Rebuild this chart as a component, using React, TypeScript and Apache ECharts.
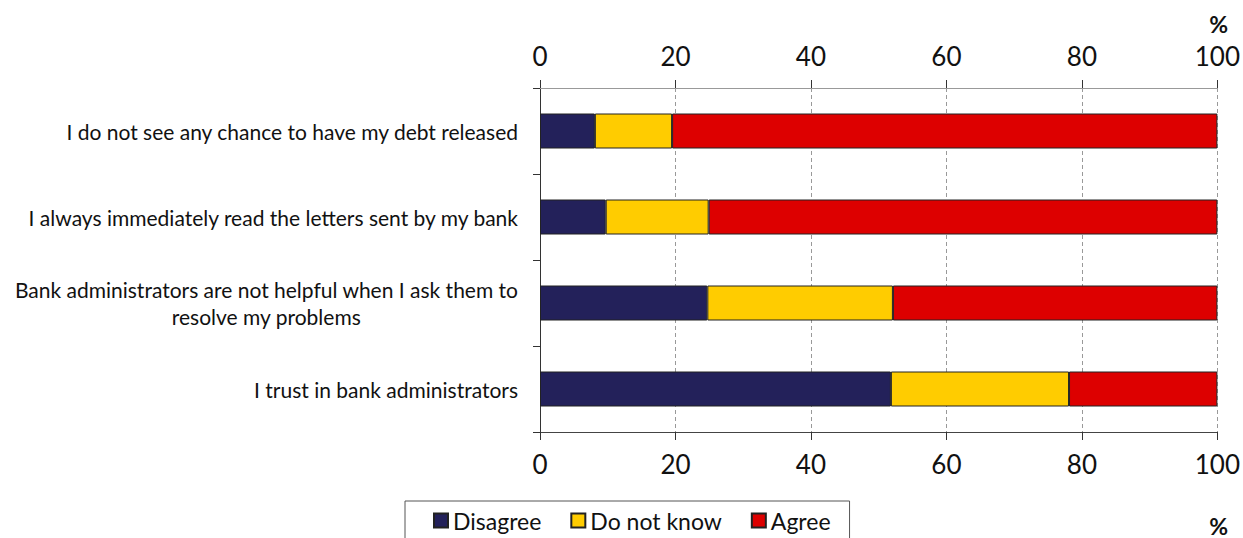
import React, { useEffect, useRef } from "react";
import * as echarts from "echarts";

const categories = [
  "I do not see any chance to have my debt released",
  "I always immediately read the letters sent by my bank",
  "Bank administrators are not helpful when I ask them to\nresolve my problems",
  "I trust in bank administrators",
];
const disagree = [8.1, 9.7, 24.7, 51.8];
const doNotKnow = [11.4, 15.2, 27.4, 26.3];
const agree = [80.5, 75.1, 47.9, 21.9];
const seriesNames = ["Disagree", "Do not know", "Agree"];
const colors = ["#23215A", "#FFCC00", "#DD0000"];
const FONT = "Lato";

export default function App() {
  const ref = useRef<HTMLDivElement>(null);
  useEffect(() => {
    document.body.style.margin = "0";
    const chart = echarts.init(ref.current!, null, { renderer: "svg" });
    const valueAxis = (pos: "top" | "bottom", lineColor: string, showSplit: boolean) => ({
      type: "value",
      position: pos,
      min: 0,
      max: 100,
      interval: 20,
      axisLine: { show: true, lineStyle: { color: lineColor, width: 1 } },
      axisTick: { show: true, length: 8, inside: false, lineStyle: { color: "#333" } },
      axisLabel: { fontFamily: FONT, fontSize: 26, color: "#111", margin: 19 },
      splitLine: showSplit
        ? { show: true, lineStyle: { color: "#999", type: [4, 3], width: 1 } }
        : { show: false },
    });
    const data = [disagree, doNotKnow, agree];
    chart.setOption({
      animation: false,
      textStyle: { fontFamily: FONT },
      grid: { left: 540, right: 24, top: 88, bottom: 106, containLabel: false },
      xAxis: [valueAxis("bottom", "#444", true), valueAxis("top", "#999", false)],
      yAxis: [
        {
          type: "category",
          data: categories,
          inverse: true,
          axisLine: { show: true, lineStyle: { color: "#333" } },
          axisTick: { show: true, length: 7, lineStyle: { color: "#333" } },
          axisLabel: {
            margin: 22,
            fontFamily: FONT,
            fontSize: 21,
            color: "#111",
            lineHeight: 27,
            formatter: (v: string) => {
              const parts = v.split("\n");
              if (parts.length === 1) return `{a|${v}}`;
              return `{a|${parts[0]}}\n{c|${parts[1]}}`;
            },
            rich: {
              a: { fontFamily: FONT, fontSize: 21, color: "#111", align: "right", lineHeight: 27 },
              c: { fontFamily: FONT, fontSize: 21, color: "#111", align: "center", lineHeight: 27 },
            },
          },
        },
        {
          type: "category",
          data: categories,
          inverse: true,
          position: "right",
          axisLine: { show: true, lineStyle: { color: "#333" } },
          axisTick: { show: false },
          axisLabel: { show: false },
        },
      ],
      legend: {
        top: 501,
        left: 405,
        padding: [8, 19, 20, 28],
        borderColor: "#555",
        borderWidth: 1,
        itemWidth: 14,
        itemHeight: 14,
        itemGap: 29,
        icon: "rect",
        textStyle: { fontFamily: FONT, fontSize: 23, color: "#111" },
        data: seriesNames,
      },
      graphic: [
        {
          type: "text",
          right: 15,
          top: 12,
          style: { text: "%", fontFamily: FONT, fontSize: 23, fontWeight: "bold", fill: "#111" },
        },
        {
          type: "text",
          right: 15,
          top: 514,
          style: { text: "%", fontFamily: FONT, fontSize: 23, fontWeight: "bold", fill: "#111" },
        },
      ],
      series: seriesNames.map((name, i) => ({
        name,
        type: "bar",
        stack: "total",
        xAxisIndex: 0,
        yAxisIndex: 0,
        barWidth: 35,
        data: data[i],
        itemStyle: { color: colors[i], borderColor: "#222", borderWidth: 1 },
      })),
    });
    return () => chart.dispose();
  }, []);
  return <div ref={ref} style={{ width: 1243, height: 538 }} />;
}
